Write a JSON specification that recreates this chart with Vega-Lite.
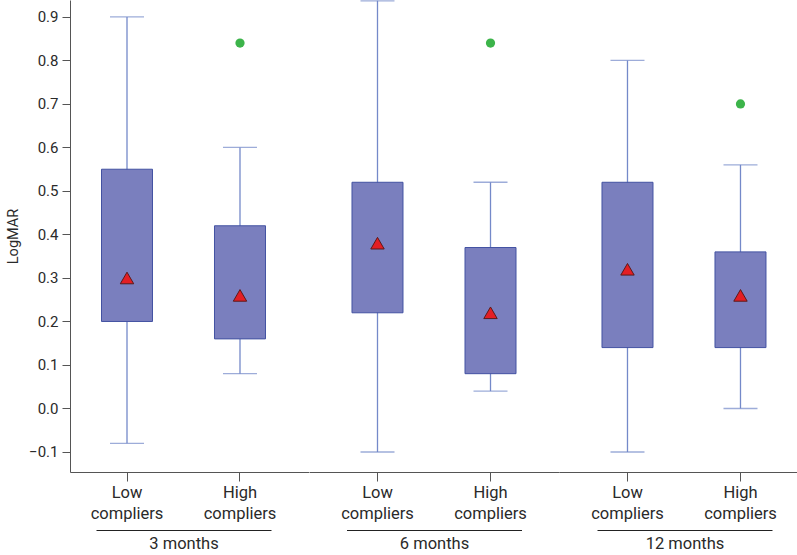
{
  "$schema": "https://vega.github.io/schema/vega-lite/v6.json",
  "padding": {"left": 5, "right": 0, "top": 0, "bottom": 0},
  "spacing": 0,
  "bounds": "flush",
  "config": {
    "view": {"stroke": null},
    "font": "Roboto",
    "axis": {"grid": false, "domainColor": "#555555", "tickColor": "#555555", "labelColor": "#2a2a2a", "titleColor": "#2a2a2a", "labelFont": "Roboto", "titleFont": "Roboto", "titleFontWeight": "normal"}
  },
  "datasets": {
    "stats": [
      {"month": "3 months", "group": "Low compliers", "lower": -0.08, "q1": 0.20, "q3": 0.55, "upper": 0.90, "mean": 0.30},
      {"month": "3 months", "group": "High compliers", "lower": 0.08, "q1": 0.16, "q3": 0.42, "upper": 0.60, "mean": 0.26},
      {"month": "6 months", "group": "Low compliers", "lower": -0.10, "q1": 0.22, "q3": 0.52, "upper": 0.937, "mean": 0.38},
      {"month": "6 months", "group": "High compliers", "lower": 0.04, "q1": 0.08, "q3": 0.37, "upper": 0.52, "mean": 0.22},
      {"month": "12 months", "group": "Low compliers", "lower": -0.10, "q1": 0.14, "q3": 0.52, "upper": 0.80, "mean": 0.32},
      {"month": "12 months", "group": "High compliers", "lower": 0.00, "q1": 0.14, "q3": 0.36, "upper": 0.56, "mean": 0.26}
    ],
    "outliers": [
      {"month": "3 months", "group": "High compliers", "value": 0.84},
      {"month": "6 months", "group": "High compliers", "value": 0.84},
      {"month": "12 months", "group": "High compliers", "value": 0.70}
    ]
  },
  "hconcat": [
    {
      "width": 238.5, "height": 472,
      "resolve": {"scale": {"x": "independent"}, "axis": {"x": "independent"}},
      "layer": [
        {
          "encoding": {
            "x": {"field": "group", "type": "nominal", "title": null,
              "scale": {"type": "band", "domain": ["Low compliers", "High compliers"], "paddingInner": 0.5487, "paddingOuter": 0.3297, "align": 0.4228},
              "axis": {"labelAngle": 0, "labelExpr": "split(datum.label, ' ')", "labelFontSize": 16.5, "labelLineHeight": 21, "tickSize": 9, "labelPadding": 3}}
          },
          "layer": [
            {
              "data": {"name": "stats"},
              "transform": [{"filter": "datum.month === '3 months'"}],
              "mark": {"type": "rule", "color": "#7489c9", "strokeWidth": 1.3},
              "encoding": {
                "y": {"field": "lower", "type": "quantitative", "title": "LogMAR",
                  "scale": {"domain": [-0.146, 0.939], "nice": false, "zero": false},
                  "axis": {"values": [-0.1, 0, 0.1, 0.2, 0.3, 0.4, 0.5, 0.6, 0.7, 0.8, 0.9], "format": ".1f", "labelFontSize": 15, "titleFontSize": 14.5, "tickSize": 8, "labelPadding": 4, "titlePadding": 8}},
                "y2": {"field": "upper"}
              }
            },
            {
              "data": {"name": "stats"},
              "transform": [{"filter": "datum.month === '3 months'"}],
              "mark": {"type": "tick", "orient": "horizontal", "size": 34, "thickness": 1.3, "color": "#7489c9"},
              "encoding": {"y": {"field": "upper", "type": "quantitative"}}
            },
            {
              "data": {"name": "stats"},
              "transform": [{"filter": "datum.month === '3 months'"}],
              "mark": {"type": "tick", "orient": "horizontal", "size": 34, "thickness": 1.3, "color": "#7489c9"},
              "encoding": {"y": {"field": "lower", "type": "quantitative"}}
            },
            {
              "data": {"name": "stats"},
              "transform": [{"filter": "datum.month === '3 months'"}],
              "mark": {"type": "bar", "fill": "#7a7fbe", "stroke": "#4352a2", "strokeWidth": 1},
              "encoding": {"y": {"field": "q1", "type": "quantitative"}, "y2": {"field": "q3"}}
            },
            {
              "data": {"name": "stats"},
              "transform": [{"filter": "datum.month === '3 months'"}],
              "mark": {"type": "point", "shape": "triangle-up", "size": 180, "filled": true, "fill": "#e31e24", "stroke": "#5a1a1a", "strokeWidth": 1, "opacity": 1},
              "encoding": {"y": {"field": "mean", "type": "quantitative"}}
            },
            {
              "data": {"name": "outliers"},
              "transform": [{"filter": "datum.month === '3 months'"}],
              "mark": {"type": "point", "shape": "circle", "size": 85, "filled": true, "color": "#3cb44a", "opacity": 1},
              "encoding": {"y": {"field": "value", "type": "quantitative"}}
            }
          ]
        },
        {
          "data": {"name": "stats"},
          "transform": [{"filter": "datum.month === '3 months'"}],
          "mark": {"type": "point", "opacity": 0},
          "encoding": {
            "x": {"field": "month", "type": "nominal", "title": null,
              "scale": {"type": "point", "range": [26, 201], "padding": 0.5},
              "axis": {"orient": "bottom", "offset": 58, "ticks": false, "labelAngle": 0, "labelFontSize": 16.5, "labelPadding": 5, "domainColor": "#222222"}}
          }
        }
      ]
    },
    {
      "width": 250, "height": 472,
      "resolve": {"scale": {"x": "independent"}, "axis": {"x": "independent"}},
      "layer": [
        {
          "encoding": {
            "x": {"field": "group", "type": "nominal", "title": null,
              "scale": {"type": "band", "domain": ["Low compliers", "High compliers"], "paddingInner": 0.5487, "paddingOuter": 0.3805, "align": 0.5},
              "axis": {"labelAngle": 0, "labelExpr": "split(datum.label, ' ')", "labelFontSize": 16.5, "labelLineHeight": 21, "tickSize": 9, "labelPadding": 3}}
          },
          "layer": [
            {
              "data": {"name": "stats"},
              "transform": [{"filter": "datum.month === '6 months'"}],
              "mark": {"type": "rule", "color": "#7489c9", "strokeWidth": 1.3},
              "encoding": {
                "y": {"field": "lower", "type": "quantitative", "scale": {"domain": [-0.146, 0.939], "nice": false, "zero": false}, "axis": null},
                "y2": {"field": "upper"}
              }
            },
            {
              "data": {"name": "stats"},
              "transform": [{"filter": "datum.month === '6 months'"}],
              "mark": {"type": "tick", "orient": "horizontal", "size": 34, "thickness": 1.3, "color": "#7489c9"},
              "encoding": {"y": {"field": "upper", "type": "quantitative"}}
            },
            {
              "data": {"name": "stats"},
              "transform": [{"filter": "datum.month === '6 months'"}],
              "mark": {"type": "tick", "orient": "horizontal", "size": 34, "thickness": 1.3, "color": "#7489c9"},
              "encoding": {"y": {"field": "lower", "type": "quantitative"}}
            },
            {
              "data": {"name": "stats"},
              "transform": [{"filter": "datum.month === '6 months'"}],
              "mark": {"type": "bar", "fill": "#7a7fbe", "stroke": "#4352a2", "strokeWidth": 1},
              "encoding": {"y": {"field": "q1", "type": "quantitative"}, "y2": {"field": "q3"}}
            },
            {
              "data": {"name": "stats"},
              "transform": [{"filter": "datum.month === '6 months'"}],
              "mark": {"type": "point", "shape": "triangle-up", "size": 180, "filled": true, "fill": "#e31e24", "stroke": "#5a1a1a", "strokeWidth": 1, "opacity": 1},
              "encoding": {"y": {"field": "mean", "type": "quantitative"}}
            },
            {
              "data": {"name": "outliers"},
              "transform": [{"filter": "datum.month === '6 months'"}],
              "mark": {"type": "point", "shape": "circle", "size": 85, "filled": true, "color": "#3cb44a", "opacity": 1},
              "encoding": {"y": {"field": "value", "type": "quantitative"}}
            }
          ]
        },
        {
          "data": {"name": "stats"},
          "transform": [{"filter": "datum.month === '6 months'"}],
          "mark": {"type": "point", "opacity": 0},
          "encoding": {
            "x": {"field": "month", "type": "nominal", "title": null,
              "scale": {"type": "point", "range": [37.5, 212.5], "padding": 0.5},
              "axis": {"orient": "bottom", "offset": 58, "ticks": false, "labelAngle": 0, "labelFontSize": 16.5, "labelPadding": 5, "domainColor": "#222222"}}
          }
        }
      ]
    },
    {
      "width": 238.5, "height": 472,
      "resolve": {"scale": {"x": "independent"}, "axis": {"x": "independent"}},
      "layer": [
        {
          "encoding": {
            "x": {"field": "group", "type": "nominal", "title": null,
              "scale": {"type": "band", "domain": ["Low compliers", "High compliers"], "paddingInner": 0.5487, "paddingOuter": 0.3297, "align": 0.577},
              "axis": {"labelAngle": 0, "labelExpr": "split(datum.label, ' ')", "labelFontSize": 16.5, "labelLineHeight": 21, "tickSize": 9, "labelPadding": 3}}
          },
          "layer": [
            {
              "data": {"name": "stats"},
              "transform": [{"filter": "datum.month === '12 months'"}],
              "mark": {"type": "rule", "color": "#7489c9", "strokeWidth": 1.3},
              "encoding": {
                "y": {"field": "lower", "type": "quantitative", "scale": {"domain": [-0.146, 0.939], "nice": false, "zero": false}, "axis": null},
                "y2": {"field": "upper"}
              }
            },
            {
              "data": {"name": "stats"},
              "transform": [{"filter": "datum.month === '12 months'"}],
              "mark": {"type": "tick", "orient": "horizontal", "size": 34, "thickness": 1.3, "color": "#7489c9"},
              "encoding": {"y": {"field": "upper", "type": "quantitative"}}
            },
            {
              "data": {"name": "stats"},
              "transform": [{"filter": "datum.month === '12 months'"}],
              "mark": {"type": "tick", "orient": "horizontal", "size": 34, "thickness": 1.3, "color": "#7489c9"},
              "encoding": {"y": {"field": "lower", "type": "quantitative"}}
            },
            {
              "data": {"name": "stats"},
              "transform": [{"filter": "datum.month === '12 months'"}],
              "mark": {"type": "bar", "fill": "#7a7fbe", "stroke": "#4352a2", "strokeWidth": 1},
              "encoding": {"y": {"field": "q1", "type": "quantitative"}, "y2": {"field": "q3"}}
            },
            {
              "data": {"name": "stats"},
              "transform": [{"filter": "datum.month === '12 months'"}],
              "mark": {"type": "point", "shape": "triangle-up", "size": 180, "filled": true, "fill": "#e31e24", "stroke": "#5a1a1a", "strokeWidth": 1, "opacity": 1},
              "encoding": {"y": {"field": "mean", "type": "quantitative"}}
            },
            {
              "data": {"name": "outliers"},
              "transform": [{"filter": "datum.month === '12 months'"}],
              "mark": {"type": "point", "shape": "circle", "size": 85, "filled": true, "color": "#3cb44a", "opacity": 1},
              "encoding": {"y": {"field": "value", "type": "quantitative"}}
            }
          ]
        },
        {
          "data": {"name": "stats"},
          "transform": [{"filter": "datum.month === '12 months'"}],
          "mark": {"type": "point", "opacity": 0},
          "encoding": {
            "x": {"field": "month", "type": "nominal", "title": null,
              "scale": {"type": "point", "range": [38, 213], "padding": 0.5},
              "axis": {"orient": "bottom", "offset": 58, "ticks": false, "labelAngle": 0, "labelFontSize": 16.5, "labelPadding": 5, "domainColor": "#222222"}}
          }
        }
      ]
    }
  ]
}
